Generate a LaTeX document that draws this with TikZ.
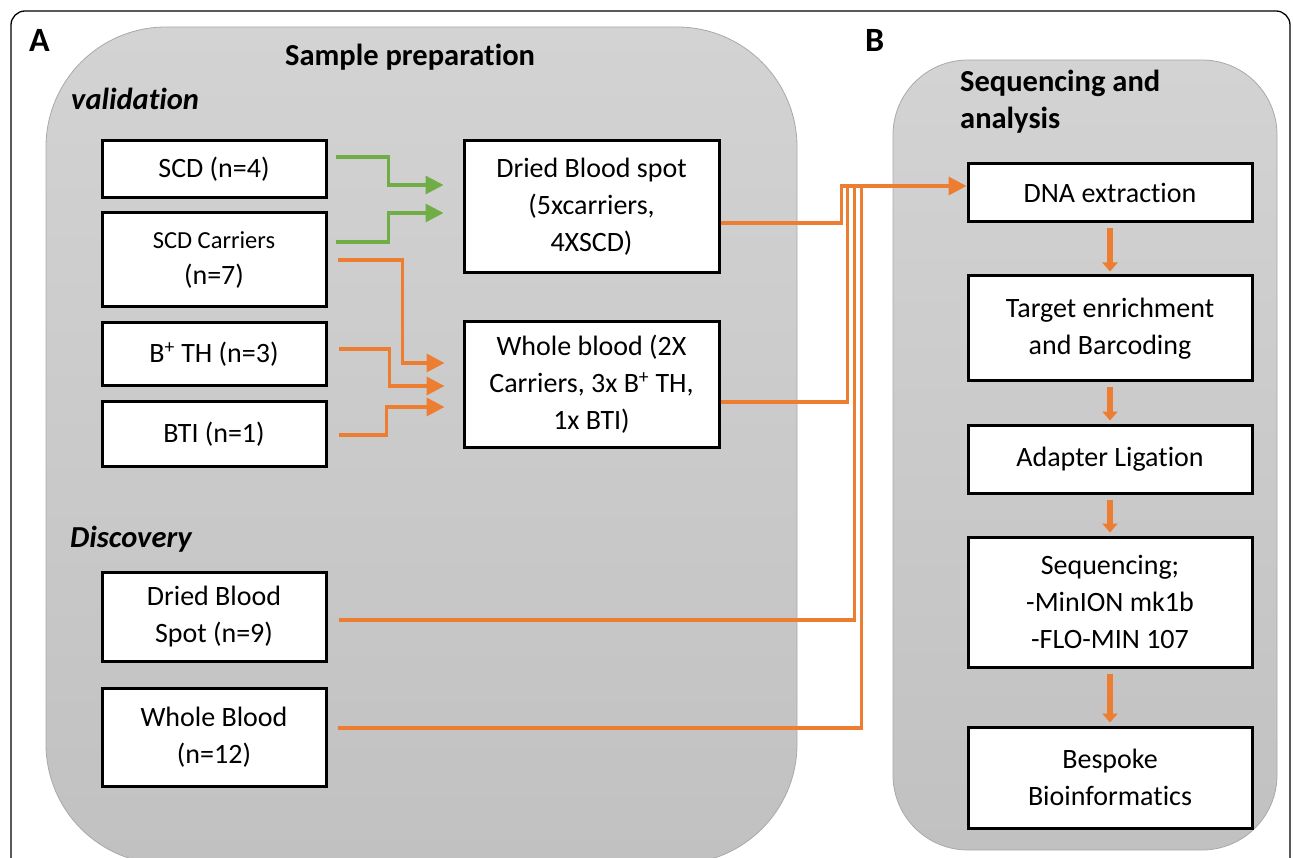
\documentclass[tikz,border=0pt]{standalone}
\usepackage{fontspec}
\setmainfont{Carlito}[Ligatures={NoCommon,NoContextual,NoRare}]
\usetikzlibrary{arrows.meta,calc}
\definecolor{og}{HTML}{ED7D31}
\definecolor{gr}{HTML}{70AD47}
\definecolor{pnltop}{HTML}{D3D3D3}
\definecolor{pnlbot}{HTML}{C1C1C1}
\definecolor{pnledge}{HTML}{A9A9A9}
\newcommand\boxfont{\fontsize{28}{36.8}\selectfont}
\newcommand\headfont{\fontsize{30.5}{37}\selectfont\bfseries}
\begin{document}
\begin{tikzpicture}[x=1pt,y=-1pt,
 box/.style={draw=black,line width=3pt,fill=white,inner sep=0pt,align=center,font=\boxfont},
 lbox/.style={box,minimum width=224pt},
 mbox/.style={box,minimum width=255pt},
 rbox/.style={box,minimum width=284pt},
 panel/.style={draw=pnledge,line width=0.8pt,top color=pnltop,bottom color=pnlbot},
 head/.style={font=\headfont,inner sep=0pt,anchor=base west},
 garr/.style={draw=gr,line width=3.2pt,-{Triangle[length=18pt,width=18pt]}},
 oarr/.style={draw=og,line width=3.6pt,-{Triangle[length=18pt,width=18pt]}},
 oline/.style={draw=og,line width=3.6pt},
 darr/.style={draw=og,line width=6.5pt,-{Triangle[length=9pt,width=15pt]},shorten <=5pt,shorten >=3pt},
]
\useasboundingbox (0,0) rectangle (1293,858);
\clip (0,0) rectangle (1293,858);

% outer frame
\draw[line width=1.3pt,rounded corners=14pt] (11,880) -- (11,11) -- (1290,11) -- (1290,880);

% panels
\path[panel,rounded corners=120pt] (46,27) rectangle (797,864);
\path[panel,rounded corners=75pt] (893,60) rectangle (1277,850);

% headings
\node[head,font=\fontsize{34}{37}\selectfont\bfseries] (ta) at (29,52) {A};
\node[head,font=\fontsize{34}{37}\selectfont\bfseries] (tb) at (865,52) {B};
\node[head] (tsp) at (285,66) {Sample preparation};
\node[head,font=\headfont\itshape] (tval) at (71,110) {validation};
\node[head,font=\headfont\itshape] (tdis) at (70,547) {Discovery};
\node[head] (tseq1) at (960,92) {Sequencing and};
\node[head] (tseq2) at (960,129) {analysis};

% left boxes
\node[lbox,minimum height=57pt] (scd) at (214,169.5) {SCD (n=4)};
\node[lbox,minimum height=94pt] (car) at (214,260) {{\fontsize{24.5}{32}\selectfont SCD Carriers}\\(n=7)};
\node[lbox,minimum height=63pt] (bth) at (214,354.5) {B\textsuperscript{+} TH (n=3)};
\node[lbox,minimum height=64pt] (bti) at (214,434) {BTI (n=1)};
\node[mbox,minimum height=132pt] (dbs) at (591.5,207) {Dried Blood spot\\(5xcarriers,\\4XSCD)};
\node[mbox,minimum height=125pt] (wb) at (591.5,384.5) {Whole blood (2X\\Carriers, 3x B\textsuperscript{+} TH,\\1x BTI)};
\node[lbox,minimum height=89pt] (ddbs) at (214,616.5) {Dried Blood\\Spot (n=9)};
\node[lbox,minimum height=98pt] (dwb) at (214,737) {Whole Blood\\(n=12)};

% right boxes
\node[rbox,minimum height=58pt] (dna) at (1110,193) {DNA extraction};
\node[rbox,minimum height=105pt] (tgt) at (1110,328.5) {Target enrichment\\and Barcoding};
\node[rbox,minimum height=68pt] (adp) at (1110,459) {Adapter Ligation};
\node[rbox,minimum height=130pt] (seq) at (1110,602) {Sequencing;\\-MinION mk1b\\-FLO-MIN 107};
\node[rbox,minimum height=101pt] (bio) at (1110,777.5) {Bespoke\\Bioinformatics};

% green connectors
\draw[garr] ($(scd.east)+(8,-12.5)$) -| ($(dbs.west)+(-74,-22)$) -- ($(dbs.west)+(-19,-22)$);
\draw[garr] ($(car.east)+(8,-18)$) -| ($(dbs.west)+(-74,6)$) -- ($(dbs.west)+(-19,6)$);

% orange connectors to whole blood
\draw[oarr] ($(car.east)+(10,0)$) -| ($(wb.west)+(-60,-21.5)$) -- ($(wb.west)+(-18,-21.5)$);
\draw[oarr] ($(bth.east)+(11,-5.5)$) -| ($(wb.west)+(-73,1.5)$) -- ($(wb.west)+(-18,1.5)$);
\draw[oarr] ($(bti.east)+(11,1)$) -| ($(wb.west)+(-76,22.5)$) -- ($(wb.west)+(-18,22.5)$);

% bus to DNA extraction
\draw[oline] ($(dwb.east)+(10,-9)$) -| ($(dna.west)+(-105,-7)$);
\draw[oline] ($(ddbs.east)+(11,3.5)$) -| ($(dna.west)+(-112,-7)$);
\draw[oline] ($(wb.east)+(0,17.5)$) -| ($(dna.west)+(-119,-7)$);
\draw[oarr] ($(dbs.east)+(0,16)$) -| ($(dna.west)+(-125,-7)$) -- ($(dna.west)+(0,-7)$);

% vertical chain
\draw[darr] (dna.south) -- (tgt.north);
\draw[darr] (tgt.south) -- (adp.north);
\draw[darr] (adp.south) -- (seq.north);
\draw[darr] (seq.south) -- (bio.north);
\end{tikzpicture}
\end{document}
